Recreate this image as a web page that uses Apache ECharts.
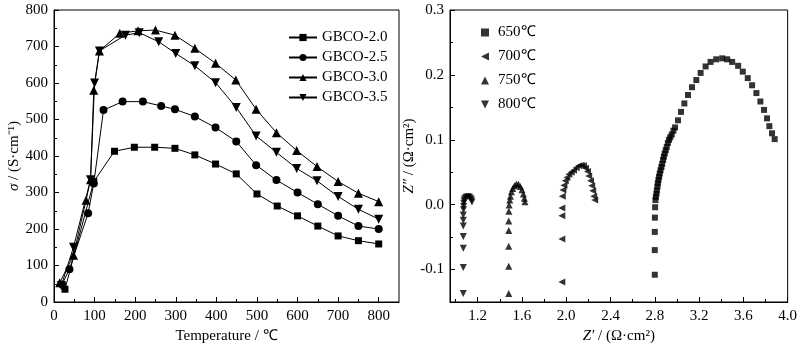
<!DOCTYPE html>
<html>
<head>
<meta charset="utf-8">
<script src="https://cdn.jsdelivr.net/npm/echarts@6/dist/echarts.min.js"></script>
<style>
html,body{margin:0;padding:0;background:#fff;}
#c{width:800px;height:350px;}
</style>
</head>
<body>
<div id="c"></div>
<script>
// ---------- Left panel: conductivity vs temperature ----------
const gbco20T = [27, 98, 149, 198, 248, 298, 347, 398, 449, 500, 550, 600, 650, 700, 750, 800];
const gbco20S = [35, 330, 413, 424, 424, 421, 403, 378, 351, 296, 263, 236, 208, 181, 168, 159];
const gbco25T = [20, 38, 84, 98, 122, 169, 219, 264, 298, 347, 398, 449, 498, 548, 600, 650, 700, 750, 800];
const gbco25S = [48, 90, 243, 325, 526, 549, 549, 537, 528, 508, 478, 440, 375, 334, 300, 268, 236, 208, 200];
const gbco30T = [14, 48, 79, 90, 98, 112, 162, 207, 250, 298, 347, 398, 448, 498, 548, 598, 648, 700, 750, 800];
const gbco30S = [53, 128, 279, 335, 580, 688, 736, 743, 745, 731, 695, 654, 608, 528, 464, 415, 371, 330, 298, 275];
const gbco35T = [18, 48, 90, 100, 112, 176, 210, 258, 300, 347, 398, 449, 498, 548, 598, 648, 700, 750, 800];
const gbco35S = [45, 150, 335, 600, 688, 731, 738, 713, 681, 647, 601, 533, 455, 410, 366, 332, 289, 254, 227];
const leftNames = ['GBCO-2.0', 'GBCO-2.5', 'GBCO-3.0', 'GBCO-3.5'];

const tempTicks = [0, 100, 200, 300, 400, 500, 600, 700, 800];
const tempMinor = [50, 150, 250, 350, 450, 550, 650, 750];
const sigmaTicks = [0, 100, 200, 300, 400, 500, 600, 700, 800];
const sigmaMinor = [50, 150, 250, 350, 450, 550, 650, 750];

// ---------- Right panel: impedance spectra ----------
const z650Re = [2.800, 2.800, 2.800, 2.801, 2.803, 2.806, 2.810, 2.815, 2.819, 2.824, 2.828, 2.833, 2.839, 2.845, 2.852, 2.860, 2.867, 2.875, 2.882, 2.890, 2.899, 2.908, 2.918, 2.929, 2.940, 2.953, 2.968, 2.983, 3.010, 3.037, 3.067, 3.100, 3.136, 3.175, 3.214, 3.259, 3.304, 3.355, 3.409, 3.454, 3.499, 3.553, 3.595, 3.640, 3.679, 3.718, 3.754, 3.787, 3.814, 3.835, 3.859, 3.883];
const z650Im = [-0.108, -0.070, -0.042, -0.020, -0.004, 0.007, 0.012, 0.017, 0.022, 0.028, 0.033, 0.038, 0.043, 0.048, 0.053, 0.058, 0.063, 0.069, 0.074, 0.079, 0.084, 0.089, 0.095, 0.100, 0.104, 0.108, 0.114, 0.119, 0.130, 0.143, 0.156, 0.169, 0.181, 0.192, 0.203, 0.213, 0.220, 0.224, 0.2255, 0.224, 0.220, 0.214, 0.205, 0.195, 0.184, 0.172, 0.159, 0.146, 0.133, 0.121, 0.110, 0.101];
const z700Re = [1.960, 1.960, 1.960, 1.960, 1.964, 1.970, 1.979, 1.991, 2.006, 2.024, 2.045, 2.066, 2.090, 2.113, 2.135, 2.156, 2.174, 2.192, 2.203, 2.219, 2.230, 2.239, 2.248, 2.257];
const z700Im = [-0.119, -0.053, -0.017, -0.005, 0.013, 0.0226, 0.030, 0.037, 0.042, 0.047, 0.050, 0.053, 0.057, 0.060, 0.0607, 0.060, 0.056, 0.051, 0.044, 0.037, 0.029, 0.0215, 0.013, 0.007];
const z750Re = [1.481, 1.481, 1.481, 1.481, 1.481, 1.482, 1.484, 1.490, 1.496, 1.505, 1.517, 1.532, 1.550, 1.568, 1.586, 1.600, 1.613, 1.622, 1.627];
const z750Im = [-0.137, -0.095, -0.064, -0.040, -0.025, -0.010, -0.0005, 0.007, 0.013, 0.020, 0.025, 0.029, 0.032, 0.0314, 0.028, 0.023, 0.0165, 0.010, 0.0046];
const z800Re = [1.070, 1.070, 1.070, 1.070, 1.070, 1.070, 1.070, 1.072, 1.073, 1.074, 1.077, 1.082, 1.094, 1.109, 1.124, 1.136, 1.145, 1.148];
const z800Im = [-0.137, -0.097, -0.067, -0.049, -0.033, -0.024, -0.016, -0.008, -0.003, 0.002, 0.006, 0.009, 0.0114, 0.0123, 0.0118, 0.0098, 0.0072, 0.0041];
const rightNames = ['650℃', '700℃', '750℃', '800℃'];

const zReTicks = [1.2, 1.6, 2.0, 2.4, 2.8, 3.2, 3.6, 4.0];
const zReMinor = [1.0, 1.4, 1.8, 2.2, 2.6, 3.0, 3.4, 3.8];
const zImTicks = [-0.1, 0.0, 0.1, 0.2, 0.3];
const zImMinor = [-0.05, 0.05, 0.15, 0.25];

// ---------- build ----------
const FONT = "'Liberation Serif', 'Times New Roman', serif";
const black = '#000';
function zip(a, b) { return a.map((v, i) => [v, b[i]]); }

function majorAxis(extra) {
  return Object.assign({
    type: 'value',
    axisLine: { show: true, onZero: false, lineStyle: { color: black, width: 1 } },
    axisTick: { show: true, inside: true, length: 5, lineStyle: { color: black } },
    axisLabel: { color: black, fontFamily: FONT, fontSize: 15 },
    splitLine: { show: false },
    nameTextStyle: { color: black, fontFamily: FONT, fontSize: 15 }
  }, extra);
}
function minorAxis(extra, vals) {
  return Object.assign({
    type: 'value',
    axisLine: { show: false, onZero: false },
    axisTick: { show: true, inside: true, length: 3, lineStyle: { color: black }, customValues: vals },
    axisLabel: { show: false },
    splitLine: { show: false }
  }, extra);
}

const lineStyleBase = { color: black, width: 1 };
function lineSeries(name, t, s, symbol, size, rot) {
  return {
    name: name, type: 'line', xAxisIndex: 0, yAxisIndex: 0,
    data: zip(t, s), symbol: symbol, symbolSize: size, symbolRotate: rot || 0,
    showSymbol: true,
    lineStyle: lineStyleBase, itemStyle: { color: black }, z: 3
  };
}
function scatterSeries(name, re, im, symbol, size, rot) {
  return {
    name: name, type: 'scatter', xAxisIndex: 2, yAxisIndex: 2,
    data: zip(re, im), symbol: symbol, symbolSize: size, symbolRotate: rot || 0,
    itemStyle: { color: black }
  };
}

const legendIcons = ['rect', 'path://M0,5 L10,0 L10,10 Z', 'path://M5,0 L10,10 L0,10 Z', 'path://M0,0 L10,0 L5,10 Z'];

const option = {
  animation: false,
  backgroundColor: '#fff',
  textStyle: { fontFamily: FONT },
  grid: [
    { left: 54, top: 10, width: 345, height: 292, show: true, borderColor: black, borderWidth: 1, backgroundColor: 'transparent' },
    { left: 450, top: 10, width: 339, height: 292, show: true, borderColor: black, borderWidth: 1, backgroundColor: 'transparent' }
  ],
  xAxis: [
    majorAxis({ gridIndex: 0, position: 'bottom', min: 0, max: 850,
      axisTick: { show: true, inside: true, length: 5, lineStyle: { color: black }, customValues: tempTicks },
      axisLabel: { color: black, fontFamily: FONT, fontSize: 15, margin: 7, customValues: tempTicks },
      name: 'Temperature / ℃', nameLocation: 'middle', nameGap: 20 }),
    minorAxis({ gridIndex: 0, position: 'bottom', min: 0, max: 850 }, tempMinor),
    majorAxis({ gridIndex: 1, position: 'bottom', min: 0.95, max: 4.0,
      axisTick: { show: true, inside: true, length: 5, lineStyle: { color: black }, customValues: zReTicks },
      axisLabel: { color: black, fontFamily: FONT, fontSize: 15, margin: 7, customValues: zReTicks,
        formatter: v => v.toFixed(1), showMaxLabel: true },
      name: "{i|Z′} / (Ω·cm²)", nameLocation: 'middle', nameGap: 20,
      nameTextStyle: { color: black, fontFamily: FONT, fontSize: 15,
        rich: { i: { fontStyle: 'italic', fontFamily: FONT, fontSize: 15, color: black } } } }),
    minorAxis({ gridIndex: 1, position: 'bottom', min: 0.95, max: 4.0 }, zReMinor)
  ],
  yAxis: [
    majorAxis({ gridIndex: 0, position: 'left', min: 0, max: 800,
      axisTick: { show: true, inside: true, length: 5, lineStyle: { color: black }, customValues: sigmaTicks },
      axisLabel: { color: black, fontFamily: FONT, fontSize: 15, margin: 6, customValues: sigmaTicks },
      name: "{i|σ} / (S·cm⁻¹)", nameLocation: 'middle', nameGap: 29, nameRotate: 90,
      nameTextStyle: { color: black, fontFamily: FONT, fontSize: 15,
        rich: { i: { fontStyle: 'italic', fontFamily: FONT, fontSize: 15, color: black } } } }),
    minorAxis({ gridIndex: 0, position: 'left', min: 0, max: 800 }, sigmaMinor),
    majorAxis({ gridIndex: 1, position: 'left', min: -0.15, max: 0.3,
      axisTick: { show: true, inside: true, length: 5, lineStyle: { color: black }, customValues: zImTicks },
      axisLabel: { color: black, fontFamily: FONT, fontSize: 15, margin: 6, customValues: zImTicks,
        formatter: v => v.toFixed(1) },
      name: "{i|Z″} / (Ω·cm²)", nameLocation: 'middle', nameGap: 28, nameRotate: 90,
      nameTextStyle: { color: black, fontFamily: FONT, fontSize: 15,
        rich: { i: { fontStyle: 'italic', fontFamily: FONT, fontSize: 15, color: black } } } }),
    minorAxis({ gridIndex: 1, position: 'left', min: -0.15, max: 0.3 }, zImMinor)
  ],
  legend: [
    { data: leftNames, orient: 'vertical', left: 283, top: 25, itemWidth: 28, itemHeight: 9, itemGap: 5,
      textStyle: { color: black, fontFamily: FONT, fontSize: 15 }, selectedMode: false },
    { data: rightNames.map((n, i) => ({ name: n, icon: legendIcons[i] })),
      orient: 'vertical', left: 476, top: 20, itemWidth: 8, itemHeight: 8, itemGap: 9,
      textStyle: { color: black, fontFamily: FONT, fontSize: 15, padding: [0, 0, 0, 4] }, selectedMode: false }
  ],
  series: [
    lineSeries('GBCO-2.0', gbco20T, gbco20S, 'rect', 7),
    lineSeries('GBCO-2.5', gbco25T, gbco25S, 'circle', 8),
    lineSeries('GBCO-3.0', gbco30T, gbco30S, 'triangle', 9),
    lineSeries('GBCO-3.5', gbco35T, gbco35S, 'triangle', 9, 180),
    scatterSeries('650℃', z650Re, z650Im, 'rect', 6),
    scatterSeries('700℃', z700Re, z700Im, 'triangle', 7, 90),
    scatterSeries('750℃', z750Re, z750Im, 'triangle', 7),
    scatterSeries('800℃', z800Re, z800Im, 'triangle', 7, 180)
  ]
};

const chart = echarts.init(document.getElementById('c'), null, { renderer: 'canvas' });
chart.setOption(option);
</script>
</body>
</html>
